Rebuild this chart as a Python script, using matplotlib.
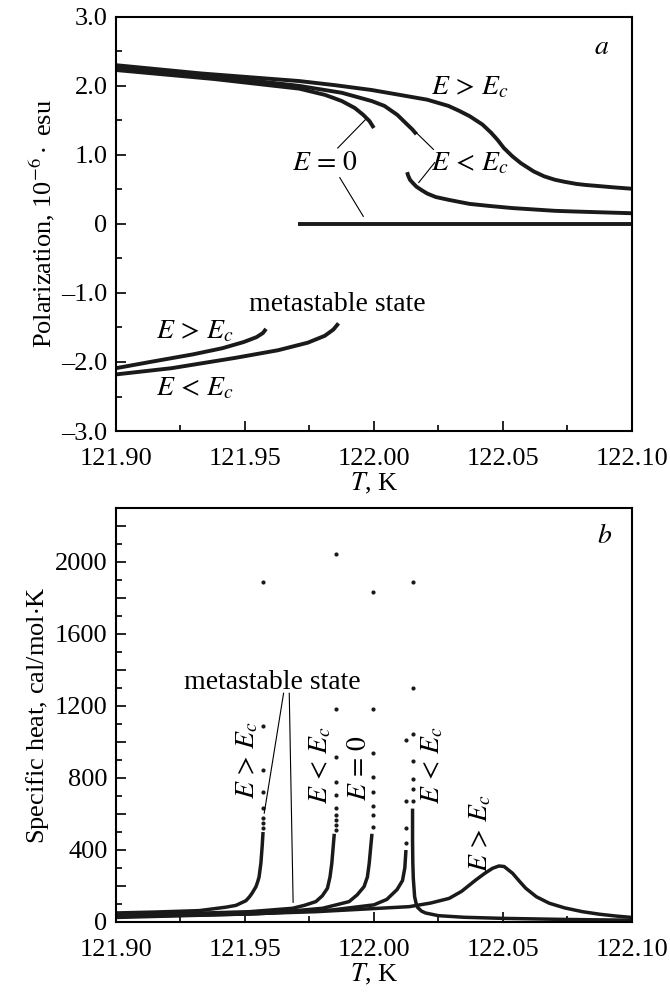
import matplotlib
matplotlib.use("Agg")
import matplotlib.pyplot as plt
from matplotlib import ticker

plt.rcParams['font.family'] = ['Liberation Serif', 'DejaVu Serif']
plt.rcParams['mathtext.fontset'] = 'stix'

# ---- panel a: polarization, 10^-6 esu ----
t_gt = [121.90, 121.9331, 121.9711, 121.985, 121.9992, 122.010, 122.0207, 122.0289, 122.033, 122.0372,
        122.0421, 122.0455, 122.0479, 122.0504, 122.0537, 122.0570, 122.0595, 122.0620, 122.066,
        122.0702, 122.074, 122.0785, 122.082, 122.0868, 122.093, 122.10]
p_gt = [2.30, 2.18, 2.07, 2.01, 1.94, 1.87, 1.80, 1.71, 1.64, 1.56,
        1.44, 1.32, 1.22, 1.10, 0.98, 0.88, 0.82, 0.76, 0.69,
        0.64, 0.61, 0.58, 0.565, 0.55, 0.53, 0.51]

t_lt_up = [121.90, 121.938, 121.9711, 121.9876, 121.9992, 122.0041, 122.0091, 122.0124, 122.0149, 122.0165]
p_lt_up = [2.26, 2.14, 2.00, 1.90, 1.78, 1.71, 1.58, 1.46, 1.37, 1.30]

t_zero_up = [121.90, 121.938, 121.9711, 121.981, 121.984, 121.9876, 121.9926, 121.9959, 121.9983, 122.0]
p_zero_up = [2.23, 2.10, 1.96, 1.87, 1.83, 1.78, 1.68, 1.58, 1.49, 1.39]

t_lt_low = [122.0129, 122.0133, 122.0140, 122.0152, 122.0165, 122.0185, 122.0207, 122.024, 122.0289,
            122.033, 122.0372, 122.045, 122.0537, 122.062, 122.0702, 122.078, 122.0868, 122.10]
p_lt_low = [0.75, 0.70, 0.64, 0.59, 0.54, 0.49, 0.44, 0.39, 0.35,
            0.32, 0.29, 0.26, 0.23, 0.21, 0.19, 0.18, 0.17, 0.155]

t_zero_line = [121.9706, 122.10]
p_zero_line = [0.0, 0.0]

t_meta_gt = [121.90, 121.9132, 121.9298, 121.9413, 121.9496, 121.9545, 121.9570, 121.9582]
p_meta_gt = [-2.09, -2.00, -1.89, -1.80, -1.71, -1.64, -1.58, -1.52]

t_meta_lt = [121.90, 121.9215, 121.9463, 121.9628, 121.9744, 121.981, 121.9843, 121.9863]
p_meta_lt = [-2.18, -2.09, -1.94, -1.83, -1.72, -1.62, -1.53, -1.44]

# ---- panel b: specific heat, cal/mol K ----
# curve 1: E > Ec, metastable
t_c1 = [121.90, 121.915, 121.9323, 121.9426, 121.9465, 121.9504, 121.9518, 121.9528, 121.9543,
        121.9550, 121.9555, 121.9562, 121.9567, 121.9570]
c_c1 = [50, 55, 63, 82, 92, 118, 140, 160, 196, 225, 250, 326, 420, 490]
t_c1_dots = 121.9571
c_c1_dots = [520, 548, 576, 632, 720, 844, 1090, 1890]

# curve 2: E < Ec, metastable
t_c2 = [121.90, 121.93, 121.9517, 121.9685, 121.973, 121.9775, 121.980, 121.9820, 121.9830, 121.9837, 121.9846]
c_c2 = [42, 48, 57, 76, 92, 113, 145, 187, 250, 326, 480]
t_c2_dots = 121.9852
c_c2_dots = [511, 539, 567, 594, 632, 706, 779, 918, 1183, 2044]

# curve 3: E = 0
t_c3 = [121.90, 121.93, 121.9581, 121.9801, 121.9904, 121.9935, 121.9962, 121.9975, 121.9982, 121.9992]
c_c3 = [35, 40, 48, 76, 113, 150, 196, 250, 326, 480]
t_c3_dots = 121.9997
c_c3_dots = [530, 594, 644, 720, 804, 941, 1183, 1833]

# curve 4: E < Ec, stable (below and above the jump)
t_c4a = [121.90, 121.9517, 121.984, 122.0000, 122.0050, 122.0090, 122.0111, 122.0120, 122.0124]
c_c4a = [30, 44, 67, 95, 125, 180, 230, 300, 390]
t_c4a_dots = 122.0125
c_c4a_dots = [437, 524, 674, 1011]

t_c4b = [122.0150, 122.0150, 122.0151, 122.0153, 122.0158, 122.0164, 122.0170, 122.0185, 122.0200, 122.0250,
         122.035, 122.05, 122.07, 122.085, 122.10]
c_c4b = [620, 450, 330, 240, 141, 102, 80, 60, 50, 35, 26, 20, 15, 12, 10]
t_c4b_dots = 122.0150
c_c4b_dots = [674, 737, 794, 894, 1044, 1298, 1890]

# curve 5: E > Ec, stable
t_c5 = [121.90, 121.94, 121.9775, 122.0137, 122.022, 122.0292, 122.034, 122.0395, 122.043, 122.046,
        122.0485, 122.0505, 122.0538, 122.0565, 122.0589, 122.063, 122.068, 122.074, 122.0809,
        122.0875, 122.0938, 122.10]
c_c5 = [25, 40, 57, 85, 105, 131, 170, 233, 270, 298,
        311, 308, 270, 225, 187, 140, 104, 78, 57,
        43, 33, 25]

fig = plt.figure(figsize=(6.7, 9.92), dpi=100)
ax1 = fig.add_axes([0.173, 0.5655, 0.770, 0.4175])
ax2 = fig.add_axes([0.173, 0.0706, 0.770, 0.4175])

lw = 2.8
for t, p in [(t_gt, p_gt), (t_lt_up, p_lt_up), (t_zero_up, p_zero_up), (t_lt_low, p_lt_low),
             (t_zero_line, p_zero_line), (t_meta_gt, p_meta_gt), (t_meta_lt, p_meta_lt)]:
    ax1.plot(t, p, color='#1a1a1a', lw=lw, solid_capstyle='butt', solid_joinstyle='round')

ax1.set_xlim(121.90, 122.10)
ax1.set_ylim(-3.0, 3.0)
ax1.xaxis.set_major_locator(ticker.MultipleLocator(0.05))
ax1.xaxis.set_minor_locator(ticker.MultipleLocator(0.025))
ax1.yaxis.set_major_locator(ticker.MultipleLocator(1.0))
ax1.yaxis.set_minor_locator(ticker.MultipleLocator(0.5))
ax1.xaxis.set_major_formatter(ticker.FormatStrFormatter('%.2f'))
ax1.yaxis.set_major_formatter(ticker.FuncFormatter(
    lambda v, pos: '0' if abs(v) < 1e-9 else ('%.1f' % v).replace('-', '\u2013')))
ax1.set_xlabel('$T$, K', fontsize=19, labelpad=1)
ax1.set_ylabel('Polarization, 10$^{-6}\\cdot$ esu', fontsize=19, labelpad=3)

txt = dict(fontsize=20, ha='center', va='center')
ax1.text(122.0884, 2.55, '$a$', **txt)
ax1.text(122.0372, 1.97, '$E\\,>\\,E_c$', **txt)
ax1.text(121.981, 0.88, '$E\\,=\\,0$', **txt)
ax1.text(122.0372, 0.88, '$E\\,<\\,E_c$', **txt)
ax1.text(121.986, -1.17, 'metastable state', **txt)
ax1.text(121.9306, -1.56, '$E\\,>\\,E_c$', **txt)
ax1.text(121.9306, -2.38, '$E\\,<\\,E_c$', **txt)
ax1.plot([121.986, 121.9967], [1.10, 1.51], color='k', lw=0.8)
ax1.plot([121.9868, 121.9959], [0.67, 0.11], color='k', lw=0.8)
ax1.plot([122.0231, 122.0165], [1.08, 1.32], color='k', lw=0.8)
ax1.plot([122.0174, 122.0236], [0.60, 0.89], color='k', lw=0.8)

# panel b
for t, c in [(t_c1, c_c1), (t_c2, c_c2), (t_c3, c_c3), (t_c4a, c_c4a), (t_c4b, c_c4b), (t_c5, c_c5)]:
    ax2.plot(t, c, color='#1a1a1a', lw=2.5, solid_joinstyle='round')
for t0, cs in [(t_c1_dots, c_c1_dots), (t_c2_dots, c_c2_dots), (t_c3_dots, c_c3_dots),
               (t_c4a_dots, c_c4a_dots), (t_c4b_dots, c_c4b_dots)]:
    ax2.plot([t0] * len(cs), cs, 'o', color='#1a1a1a', ms=3.0, mew=0)

ax2.set_xlim(121.90, 122.10)
ax2.set_ylim(0, 2300)
ax2.xaxis.set_major_locator(ticker.MultipleLocator(0.05))
ax2.xaxis.set_minor_locator(ticker.MultipleLocator(0.025))
ax2.yaxis.set_major_locator(ticker.MultipleLocator(200))
ax2.yaxis.set_minor_locator(ticker.MultipleLocator(100))
ax2.xaxis.set_major_formatter(ticker.FormatStrFormatter('%.2f'))
ax2.yaxis.set_major_formatter(ticker.FuncFormatter(
    lambda v, pos: '%d' % v if int(round(v)) % 400 == 0 else ''))
ax2.set_xlabel('$T$, K', fontsize=19, labelpad=1)
ax2.set_ylabel('Specific heat, cal/mol$\\cdot$K', fontsize=19, labelpad=3)

ax2.text(122.0893, 2140, '$b$', **txt)
ax2.text(121.9607, 1330, 'metastable state', **txt)
ax2.plot([121.9650, 121.9575], [1270, 604], color='k', lw=0.8)
ax2.plot([121.9672, 121.9687], [1270, 109], color='k', lw=0.8)
rtxt = dict(fontsize=20, ha='center', va='center', rotation=90)
ax2.text(121.951, 900, '$E\\,>\\,E_c$', **rtxt)
ax2.text(121.9795, 872, '$E\\,<\\,E_c$', **rtxt)
ax2.text(121.9943, 854, '$E\\,=\\,0$', **rtxt)
ax2.text(122.0227, 872, '$E\\,<\\,E_c$', **rtxt)
ax2.text(122.0415, 493, '$E\\,>\\,E_c$', **rtxt)

for ax in (ax1, ax2):
    for s in ax.spines.values():
        s.set_linewidth(1.5)
    ax.tick_params(which='both', direction='in', top=False, right=False, width=1.2, labelsize=19)
    ax.tick_params(which='major', length=7)
    ax.tick_params(which='minor', length=4)
    ax.tick_params(axis='x', pad=12)
    ax.tick_params(axis='y', pad=6)

fig.savefig('out.png', dpi=100)
